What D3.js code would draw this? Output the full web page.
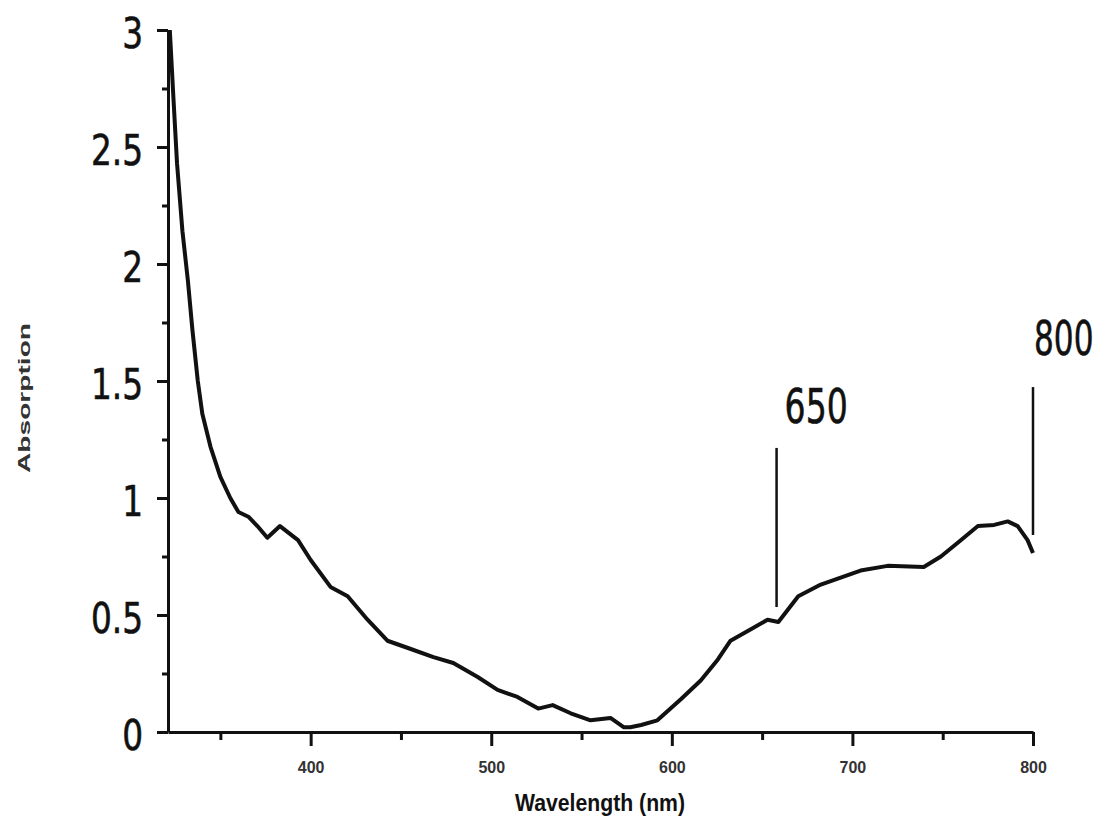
<!DOCTYPE html>
<html>
<head>
<meta charset="utf-8">
<script src="https://cdn.jsdelivr.net/npm/d3@7"></script>
<style>
  body { margin: 0; background: #fff; }
  svg { display: block; }
</style>
</head>
<body>
<div class="canvas"></div>
<script>
// spectrum (nm, absorbance)
const wavelength = [322, 324, 326, 329, 332, 334.5, 337.5, 340, 344.5, 350, 355.5, 360, 365.5, 370.5, 376, 383, 393,
  400, 411, 420.5, 431.5, 442.5, 453.5, 468, 479, 492.5, 503.5, 514.5, 526, 534, 544, 555, 566, 573.5, 577, 583, 592,
  605, 616, 625.5, 632.5, 644, 653, 659, 670, 682.5, 693.5, 704.5, 719.5, 739.5, 749, 758.5, 769.5, 778.5, 786, 791.5, 797, 800];
const absorption = [3.00, 2.71, 2.43, 2.14, 1.93, 1.72, 1.50, 1.36, 1.22, 1.09, 1.00, 0.94, 0.92, 0.88, 0.83, 0.88, 0.82,
  0.735, 0.62, 0.58, 0.48, 0.39, 0.36, 0.32, 0.295, 0.235, 0.18, 0.15, 0.10, 0.115, 0.08, 0.05, 0.06, 0.02, 0.02, 0.03, 0.05,
  0.14, 0.22, 0.31, 0.39, 0.44, 0.48, 0.47, 0.58, 0.63, 0.66, 0.69, 0.71, 0.705, 0.75, 0.81, 0.88, 0.885, 0.90, 0.88, 0.82, 0.765];

// axis ticks
const xMajor = [400, 500, 600, 700, 800];
const xMinor = [350, 450, 550, 650, 750];
const yMajor = [0, 0.5, 1, 1.5, 2, 2.5, 3];
const yMinor = [0.25, 0.75, 1.25, 1.75, 2.25, 2.75];

// the two marker lines drawn on the figure
const markerLabels = ['650', '800'];
const markerNm = [658, 800];
const markerTop = [1.214, 1.474];
const markerBottom = [0.534, 0.842];
const markerTextAt = [1.32, 1.61];

const svg = d3.select('.canvas')
  .append('svg')
  .attr('width', 1100)
  .attr('height', 834);

const x = d3.scaleLinear().domain([321, 800]).range([168, 1033]);
const y = d3.scaleLinear().domain([0, 3]).range([732, 30]);

// squeeze text horizontally, the scan's font is narrow
const squeeze = (sel, k) => sel.each(function () {
  const len = this.getComputedTextLength();
  d3.select(this).attr('textLength', len * k).attr('lengthAdjust', 'spacingAndGlyphs');
});

// y axis
const yAxis = svg.append('g')
  .attr('transform', 'translate(168,0)')
  .call(d3.axisLeft(y).tickValues(yMajor).tickSize(11).tickSizeOuter(0).tickPadding(14).tickFormat(d => String(d)));
svg.append('g')
  .attr('transform', 'translate(168,0)')
  .call(d3.axisLeft(y).tickValues(yMinor).tickSize(6).tickSizeOuter(0).tickFormat(''))
  .select('.domain').remove();

yAxis.selectAll('text')
  .attr('font-family', "'DejaVu Sans', sans-serif")
  .attr('font-size', 42)
  .attr('fill', '#111')
  .attr('stroke', '#111')
  .attr('stroke-width', 0.6)
  .attr('dy', '0.42em')
  .call(squeeze, 0.78);

// x axis
const xAxis = svg.append('g')
  .attr('transform', 'translate(0,732)')
  .call(d3.axisBottom(x).tickValues(xMajor).tickSize(14).tickSizeOuter(0).tickPadding(16));
svg.append('g')
  .attr('transform', 'translate(0,732)')
  .call(d3.axisBottom(x).tickValues(xMinor).tickSize(8).tickSizeOuter(0).tickFormat(''))
  .select('.domain').remove();

xAxis.selectAll('text')
  .attr('font-family', "'Liberation Sans', Arial, sans-serif")
  .attr('font-weight', 'bold')
  .attr('font-size', 16)
  .attr('fill', '#333');

svg.selectAll('.domain, .tick line')
  .attr('stroke', '#111')
  .attr('stroke-width', 3);

// axis titles
svg.append('text')
  .attr('x', 600)
  .attr('y', 811)
  .attr('text-anchor', 'middle')
  .attr('font-family', "'Liberation Sans', Arial, sans-serif")
  .attr('font-weight', 'bold')
  .attr('font-size', 24)
  .attr('fill', '#111')
  .attr('textLength', 170)
  .attr('lengthAdjust', 'spacingAndGlyphs')
  .text('Wavelength (nm)');

svg.append('text')
  .attr('transform', 'translate(30,398) rotate(-90)')
  .attr('text-anchor', 'middle')
  .attr('font-family', "'Liberation Sans', Arial, sans-serif")
  .attr('font-weight', 'bold')
  .attr('font-size', 17)
  .attr('fill', '#333')
  .attr('textLength', 150)
  .attr('lengthAdjust', 'spacingAndGlyphs')
  .text('Absorption');

// spectrum
const points = wavelength.map((w, i) => [w, absorption[i]]);
const line = d3.line()
  .x(d => x(d[0]))
  .y(d => y(d[1]));

svg.append('path')
  .datum(points)
  .attr('fill', 'none')
  .attr('stroke', '#111')
  .attr('stroke-width', 4)
  .attr('stroke-linejoin', 'round')
  .attr('d', line);

// marker lines and their labels
markerLabels.forEach((label, i) => {
  svg.append('line')
    .attr('x1', x(markerNm[i])).attr('x2', x(markerNm[i]))
    .attr('y1', y(markerTop[i])).attr('y2', y(markerBottom[i]))
    .attr('stroke', '#111')
    .attr('stroke-width', 2.5);

  // narrow the label with a scale instead of textLength so its box stays true
  svg.append('text')
    .attr('transform', `translate(${x(markerNm[i]) + (i === 0 ? 8 : 1)},${y(markerTextAt[i])}) scale(${i === 0 ? 0.69 : 0.65},1)`)
    .attr('font-family', "'DejaVu Sans', sans-serif")
    .attr('font-size', 48)
    .attr('fill', '#111')
    .attr('stroke', '#111')
    .attr('stroke-width', 0.6)
    .text(label);
});
</script>
</body>
</html>
